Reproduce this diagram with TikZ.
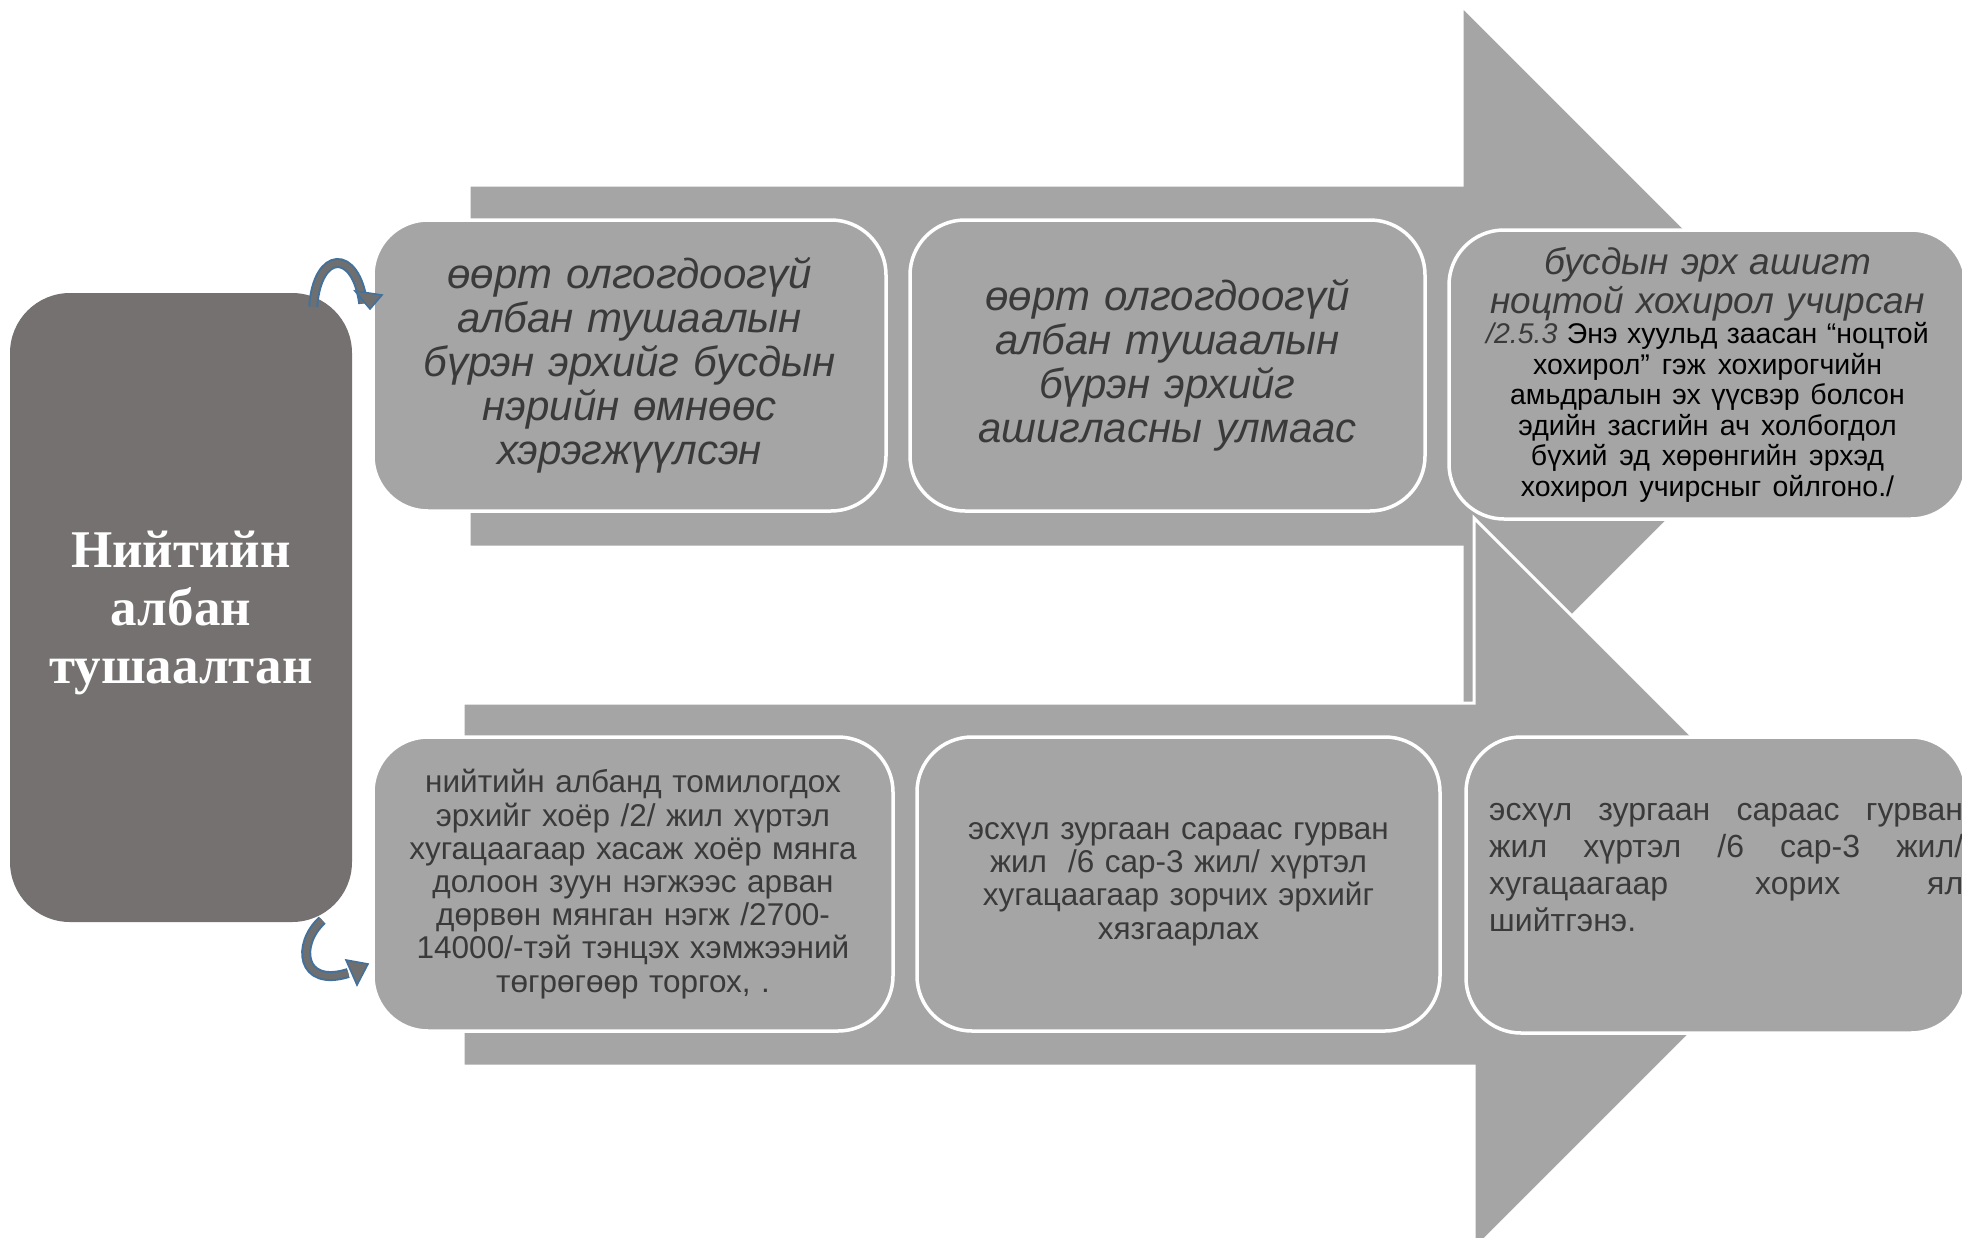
\documentclass[tikz,border=0pt]{standalone}
\usepackage{fontspec}
\setmainfont{LiberationSans}[Extension=.ttf, UprightFont=*-Regular, BoldFont=*-Bold, ItalicFont=*-Italic, BoldItalicFont=*-BoldItalic]
\newfontfamily\serifb{Liberation Serif}
\usetikzlibrary{calc}
\definecolor{arr}{HTML}{A5A5A5}
\definecolor{dbox}{HTML}{757170}
\definecolor{txt}{HTML}{3A3A3A}
\definecolor{cblue}{HTML}{41719C}
\definecolor{cgray}{HTML}{6F6F6F}
\begin{document}
\begin{tikzpicture}[x=1pt,y=-1pt,
  bigarrow/.style={fill=arr, draw=white, line width=3pt, line join=miter},
  stepbox/.style={fill=arr, draw=white, line width=3.5pt, rounded corners=55pt, inner sep=0pt, text=txt, align=center},
  mainbox/.style={fill=dbox, draw=none, rounded corners=60pt, inner sep=0pt},
  curveout/.style={draw=cblue, line width=10pt},
  curvein/.style={draw=cgray, line width=6pt},
  curvehead/.style={fill=cgray, draw=cblue, line width=1.6pt, line join=miter}
]
\useasboundingbox (0,0) rectangle (1962,1237);
\clip (0,0) rectangle (1962,1237);

% big arrows
\path[bigarrow] (469,185) -- (1462,185) -- (1462,6) -- (1822,366) -- (1462,726) -- (1462,547) -- (469,547) -- cycle;
\path[bigarrow] (463,703) -- (1474,703) -- (1474,518) -- (1840,884) -- (1474,1250) -- (1474,1066) -- (463,1066) -- cycle;

% left box
\node[mainbox, minimum width=342pt, minimum height=629pt] (left) at (181,607.5) {};
\node[inner sep=0pt, text=white, align=center, text width=330pt,
      font={\serifb\bfseries\fontsize{53}{58}\selectfont}] (lefttext) at ($(left.center)+(0,5)$)
  {Нийтийн\\албан\\тушаалтан};

% top row
\node[stepbox, minimum width=513pt, minimum height=291pt, text width=490pt,
      font={\itshape\fontsize{42}{44}\selectfont}] (b1) at (629.5,365.5)
  {өөрт олгогдоогүй\\албан тушаалын\\бүрэн эрхийг бусдын\\нэрийн өмнөөс\\хэрэгжүүлсэн};
\node[stepbox, minimum width=515pt, minimum height=291pt, text width=490pt,
      font={\itshape\fontsize{42}{44}\selectfont}] (b2) at (1167.5,365.5)
  {өөрт олгогдоогүй\\албан тушаалын\\бүрэн эрхийг\\ашигласны улмаас};
\node[stepbox, minimum width=517pt, minimum height=289pt, text width=500pt,
      font={\itshape\fontsize{37}{39}\selectfont}] (b3) at (1707.5,374.5)
  {бусдын эрх ашигт\\ноцтой хохирол учирсан\par
   {\spaceskip=0pt\xspaceskip=0pt\fontsize{28.5}{30.5}\selectfont\upshape\color{black}{\itshape\color{txt}/2.5.3} Энэ хуульд заасан “ноцтой\\хохирол” гэж хохирогчийн\\амьдралын эх үүсвэр болсон\\эдийн засгийн ач холбогдол\\бүхий эд хөрөнгийн эрхэд\\хохирол учирсныг ойлгоно./\par}};

% bottom row
\node[stepbox, minimum width=520pt, minimum height=294pt, text width=500pt,
      font={\fontsize{31.5}{33.2}\selectfont}] (b4) at (633,884)
  {нийтийн албанд томилогдох\\эрхийг хоёр /2/ жил хүртэл\\хугацаагаар хасаж хоёр мянга\\долоон зуун нэгжээс арван\\дөрвөн мянган нэгж /2700-\\14000/-тэй тэнцэх хэмжээний\\төгрөгөөр торгох, .};
\node[stepbox, minimum width=523pt, minimum height=294pt, text width=500pt,
      font={\fontsize{31.5}{33.2}\selectfont}] (b5) at (1178.5,884)
  {эсхүл зургаан сараас гурван\\жил~~/6 сар-3 жил/ хүртэл\\хугацаагаар зорчих эрхийг\\хязгаарлах};
\node[stepbox, minimum width=500pt, minimum height=296pt] (b6) at (1716,885) {};
\node[anchor=north west, inner sep=0pt, text=txt, align=left, text width=474pt,
      font={\fontsize{32}{37}\selectfont}] (b6t) at (1489,803)
  {\spaceskip=0pt\xspaceskip=0pt
   \makebox[474pt][s]{эсхүл зургаан сараас гурван}\\
   \makebox[474pt][s]{жил хүртэл /6 сар-3 жил/}\\
   \makebox[474pt][s]{хугацаагаар хорих ял}\\
   шийтгэнэ.};

% curved arrows
\coordinate (c1s) at ($(left.north east)+(-39,14)$);
\coordinate (c1e) at ($(b1.west)+(-8,-62)$);
\draw[curveout] (c1s) .. controls (317,250) and (356,248) .. (c1e);
\draw[curvein] (c1s) .. controls (317,250) and (356,248) .. (c1e);
\path[curvehead] (355,291) -- (382,295) -- (370,309) -- cycle;

\coordinate (c2s) at ($(left.south east)+(-30,-2)$);
\coordinate (c2e) at ($(b4.west)+(-23,89)$);
\draw[curveout] (c2s) .. controls (296,944) and (300,988) .. (c2e);
\draw[curvein] (c2s) .. controls (296,944) and (300,988) .. (c2e);
\path[curvehead] (346,960) -- (368,964) -- (357,985) -- cycle;
\end{tikzpicture}
\end{document}
